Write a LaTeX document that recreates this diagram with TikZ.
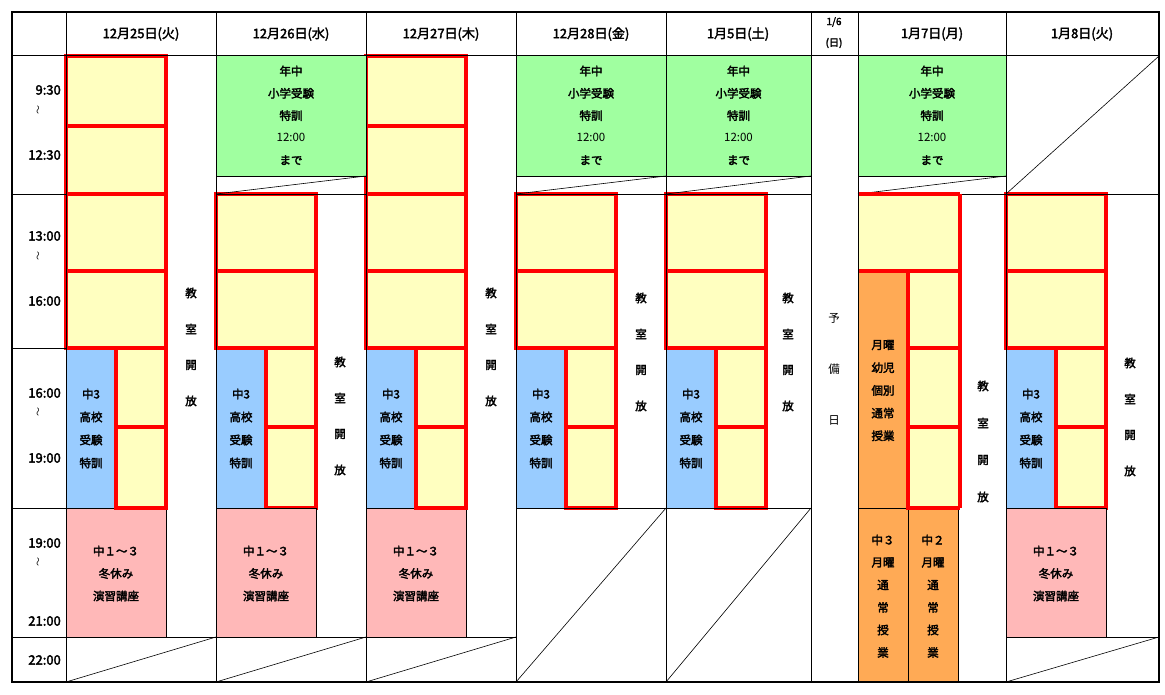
\documentclass[tikz,border=0pt]{standalone}
\usepackage{fontspec}
\setmainfont{Noto Sans CJK JP}
\newfontfamily\bfj{Noto Sans CJK JP}[FakeBold=2.5]
\definecolor{yel}{HTML}{FFFFC0}
\definecolor{grn}{HTML}{A0FFA0}
\definecolor{blu}{HTML}{99CCFF}
\definecolor{pnk}{HTML}{FFB8B8}
\definecolor{org}{HTML}{FFAA55}
\definecolor{rd}{HTML}{FF0000}
\tikzset{
 red/.style={draw=rd,line width=4.3pt},
 thin/.style={draw=black,line width=0.6pt},
 txt/.style={font=\bfj\fontsize{11.5}{12}\selectfont,inner sep=0pt},
 hd/.style={font=\bfj\fontsize{13}{14}\selectfont,inner sep=0pt},
 tm/.style={font=\bfj\fontsize{13}{14}\selectfont,inner sep=0pt,anchor=east}
}
\newcommand{\vstack}[4]{\foreach \s [count=\i from 0] in {#4}{\node[txt] (s-#1-#2-\i) at (#1,#2+\i*#3) {\s};}}
\begin{document}
\begin{tikzpicture}[x=1pt,y=-1pt]
\useasboundingbox (0,0) rectangle (1165,695);
\fill[white] (0,0) rectangle (1165,695);
\foreach \c in {66,366}{
 \fill[yel] (\c,56) rectangle (\c+100,508);
 \fill[blu] (\c,348) rectangle (\c+50,508);
 \fill[pnk] (\c,508) rectangle (\c+100,637);
 \draw[thin] (\c,508) rectangle (\c+100,637);
 \draw[thin] (\c,637) -- (\c+150,637);
 \draw[thin] (\c,682) -- (\c+150,637);
 \draw[red] (\c,56) rectangle (\c+100,348);
 \foreach \yy in {126,194,271}{\draw[red] (\c,\yy) -- (\c+100,\yy);}
 \draw[red] (\c+50,348) rectangle (\c+100,508);
 \draw[red] (\c+50,427) -- (\c+100,427);
 \vstack{\c+25}{394}{23}{中3,高校,受験,特訓}
 \vstack{\c+50}{551}{22.5}{中１～３,冬休み,演習講座}
}
\vstack{191}{293}{36}{教,室,開,放}
\vstack{491}{293}{36}{教,室,開,放}
\foreach \c in {216,516,666,1006}{
 \fill[yel] (\c,194) rectangle (\c+100,508);
 \fill[blu] (\c,348) rectangle (\c+50,508);
 \draw[red] (\c,194) rectangle (\c+100,348);
 \draw[red] (\c,271) -- (\c+100,271);
 \draw[red] (\c+50,348) rectangle (\c+100,508);
 \draw[red] (\c+50,427) -- (\c+100,427);
 \vstack{\c+25}{394}{23}{中3,高校,受験,特訓}
}
\foreach \c in {216,1006}{
 \fill[pnk] (\c,508) rectangle (\c+100,637);
 \draw[thin] (\c,508) rectangle (\c+100,637);
 \vstack{\c+50}{551}{22.5}{中１～３,冬休み,演習講座}
}
\draw[thin] (216,637) -- (366,637); \draw[thin] (216,682) -- (366,637);
\draw[thin] (1006,637) -- (1159,637); \draw[thin] (1006,682) -- (1159,637);
\draw[thin] (516,508) -- (666,508); \draw[thin] (516,682) -- (666,508);
\draw[thin] (666,508) -- (811,508); \draw[thin] (666,682) -- (811,508);
\draw[thin] (1006,194) -- (1159,56); \draw[thin] (1006,194) -- (1159,194);
\foreach \c/\w in {216/150,516/150,666/145,858/148}{
 \fill[grn] (\c,56) rectangle (\c+\w,176);
 \draw[thin] (\c,176) -- (\c+\w,176);
 \draw[thin] (\c,194) -- (\c+\w,176);
 \draw[thin] (\c,194) -- (\c+\w,194);
 \vstack{\c+\w/2}{71}{22.3}{年中,小学受験,特訓,{\normalfont 12:00},まで}
}
\vstack{340}{362}{36}{教,室,開,放}
\vstack{641}{298}{36}{教,室,開,放}
\vstack{788}{298}{36}{教,室,開,放}
\vstack{1130}{363}{36}{教,室,開,放}
\vstack{834}{318}{51}{{\normalfont 予},{\normalfont 備},{\normalfont 日}}
\fill[yel] (858,194) rectangle (960,508);
\fill[org] (858,271) rectangle (908,508);
\fill[org] (858,508) rectangle (958,682);
\draw[thin] (858,508) -- (958,508) (908,508) -- (908,682) (958,508) -- (958,682);
\draw[red] (858,194) -- (960,194) (858,271) -- (960,271) (960,194) -- (960,508);
\draw[red] (908,271) -- (908,508) -- (960,508) (908,348) -- (960,348) (908,427) -- (960,427);
\vstack{883}{345}{22.7}{月曜,幼児,個別,通常,授業}
\vstack{883}{540}{22.5}{中３,月曜,通,常,授,業}
\vstack{933}{540}{22.5}{中２,月曜,通,常,授,業}
\vstack{983}{386}{37}{教,室,開,放}
\draw[thin,line width=1pt] (12,56) -- (1159,56);
\foreach \x in {66,216,366,516,666,811,858,1006}{\draw[thin,line width=1pt] (\x,12) -- (\x,682);}
\draw[thin] (12,194) -- (66,194) (12,348) -- (66,348) (12,508) -- (66,508) (12,637) -- (66,637);
\draw[black,line width=1.8pt] (12,12) rectangle (1159,682);
\foreach \t/\x [count=\i] in {12月25日(火)/141,12月26日(水)/291,12月27日(木)/441,12月28日(金)/591,1月5日(土)/738,1月7日(月)/932,1月8日(火)/1082}{
 \node[hd] (h\i) at (\x,34) {\t};}
\node[hd,font=\bfj\fontsize{10}{11}\selectfont] (h6a) at (834,22) {1/6};
\node[hd,font=\bfj\fontsize{10}{11}\selectfont] (h6b) at (834,43) {(日)};
\foreach \t/\y [count=\i] in {9:30/90,12:30/155,13:00/236,16:00/301,16:00/393,19:00/458,19:00/543,21:00/621,22:00/660}{
 \node[tm] (tm\i) at (61,\y) {\t};}
\foreach \y [count=\i] in {110,256,412,562}{\node[txt,font=\fontsize{9}{9}\selectfont] (tl\i) at (39,\y) {\rotatebox{90}{～}};}
\end{tikzpicture}
\end{document}
